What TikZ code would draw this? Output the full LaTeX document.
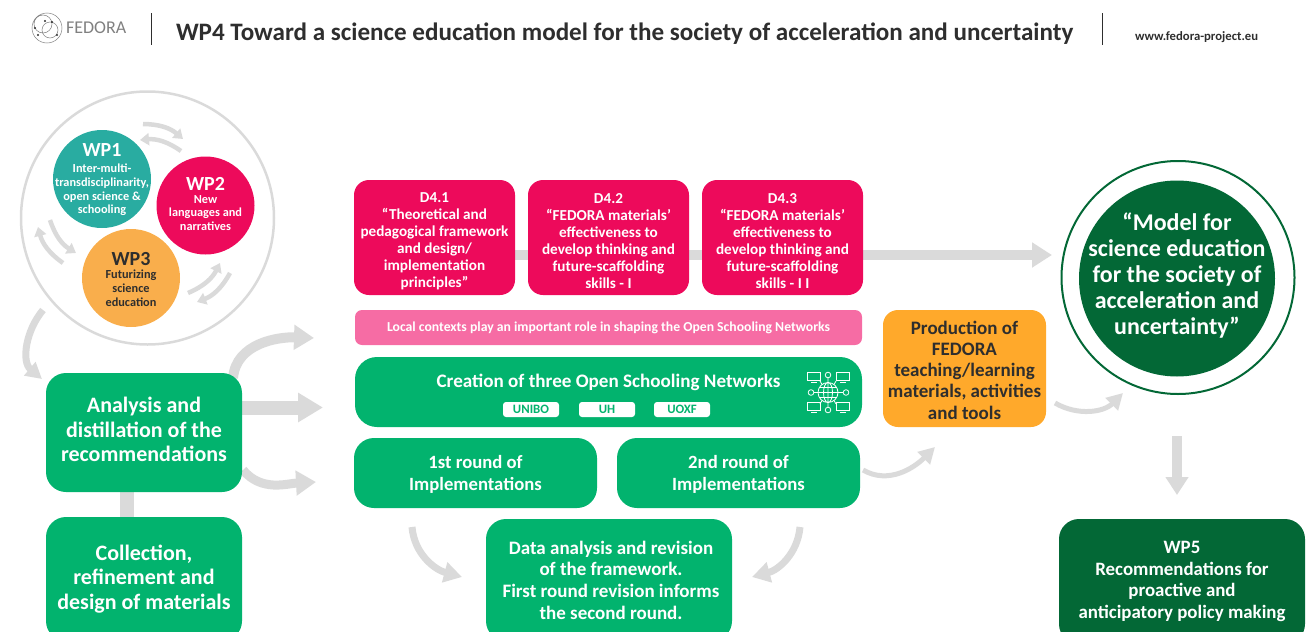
\documentclass[tikz,border=0pt]{standalone}
\usepackage{fontspec}
\setmainfont{Carlito}
\usepackage{xcolor}
\usetikzlibrary{arrows.meta,positioning,backgrounds}
\definecolor{fedteal}{HTML}{29ACA1}
\definecolor{fedpink}{HTML}{ED0A5B}
\definecolor{fedrose}{HTML}{F66CA4}
\definecolor{fedgreen}{HTML}{02B36E}
\definecolor{feddark}{HTML}{036836}
\definecolor{fedorange}{HTML}{FFA92B}
\definecolor{fedsoft}{HTML}{F9AE4C}
\definecolor{fedgray}{HTML}{DADADA}
\definecolor{fedink}{HTML}{2E2E2E}
\newcommand{\lbl}[2]{\fontsize{#1}{#2}\selectfont\bfseries}

\begin{document}
\begin{tikzpicture}[x=1pt,y=-1pt,
every node/.style = {align=center, outer sep=0pt, inner sep=0pt},
card/.style = {fill=fedgreen, rounded corners=20pt},
cardtext/.style = {text=white, font=\lbl{22}{24.4}},
roundtext/.style = {text=white, font=\lbl{18.7}{22}},
deliv/.style = {fill=fedpink, rounded corners=15pt, minimum width=161pt, minimum height=115pt},
delivtext/.style = {text=white, font=\lbl{15.2}{17}},
tagbox/.style = {fill=white, text=fedgreen, rounded corners=3pt, minimum width=56pt,
    minimum height=15pt, font=\lbl{12.8}{13}},
wpdisc/.style = {circle, minimum size=98pt},
wptext/.style = {font=\lbl{12.3}{13.7}},
flow/.style = {draw=fedgray, line width=10pt, -{Triangle[length=20pt,width=24pt]}},
swoosh/.style = {draw=fedgray, line width=5pt, -{Triangle[length=16pt,width=17pt]}},
curl/.style = {draw=fedgray, line width=4.5pt, -{Triangle[length=9pt,width=12pt]}}]
\useasboundingbox (0,0) rectangle (1310,632);

% header
\node (brand) [anchor=west, text=gray, font=\fontsize{18}{18}\selectfont] at (66,28) {FEDORA};
\node (title) [anchor=west, text=fedink, font=\lbl{25.1}{26}] at (176,33.5)
    {WP4 Toward a science education model for the society of acceleration and uncertainty};
\node (site) [anchor=west, text=fedink, font=\lbl{12.7}{13}] at (1135,37) {www.fedora-project.eu};
\draw[fedink, line width=1pt] (151,13) -- (151,45);
\draw[fedink, line width=1pt] (1102,13) -- (1102,45);
\draw[gray, line width=.5pt] (47,28) circle (15) (50,30) circle (8) (43,24) circle (9);
\foreach \px/\py in {45/21, 57/35, 38/35, 35/28, 52/22} {
  \fill[fedink] (\px,\py) circle (1.2);
}

% work packages
\node (ring) [circle, draw=fedgray, line width=2.5pt, minimum size=253pt] at (147.5,218) {};
\node (wp1) [wpdisc, fill=fedteal] at (102,179) {};
\node (wp2) [wpdisc, fill=fedpink] at (205.5,205.5) {};
\node (wp3) [wpdisc, fill=fedsoft] at (131,278) {};
\node (wp1t) [wptext, text=white] at (102,179.5) {\fontsize{20}{20}\selectfont WP1\\[3pt]Inter-multi-\\transdisciplinarity,\\open science \&\\schooling};
\node (wp2t) [wptext, text=white] at (205.5,204.25) {\fontsize{20}{20}\selectfont WP2\\[-1.5pt]New\\languages and\\narratives};
\node (wp3t) [wptext, text=fedink] at (131,279.5) {\fontsize{20}{20}\selectfont WP3\\[-1pt]Futurizing\\science\\education};
\coordinate (c1a) at (143,124); \coordinate (c1b) at (183,139);
\coordinate (c2a) at (181,151); \coordinate (c2b) at (140,140);
\coordinate (c3a) at (50,220);  \coordinate (c3b) at (76,253);
\coordinate (c4a) at (63,263);  \coordinate (c4b) at (38,227);
\coordinate (c5a) at (188,293); \coordinate (c5b) at (220,263);
\coordinate (c6a) at (230,273); \coordinate (c6b) at (197,302);
\draw[curl] (c1a) to[bend left=20] (c1b);
\draw[curl] (c2a) to[bend right=20] (c2b);
\draw[curl] (c3a) to[bend right=20] (c3b);
\draw[curl] (c4a) to[bend left=20] (c4b);
\draw[curl] (c5a) to[bend right=20] (c5b);
\draw[curl] (c6a) to[bend left=20] (c6b);

% left column
\node (analysis) [card, minimum width=196pt, minimum height=119pt] at (144,432.5) {};
\node (analysist) [cardtext] at ([yshift=3pt]analysis.center) {Analysis and\\distillation of the\\recommendations};
\node (collection) [card, minimum width=196pt, minimum height=124pt] at (144,579) {};
\node (collectiont) [cardtext] at (collection.center) {Collection,\\refinement and\\design of materials};

% deliverables
\node (d41) [deliv] at (434.5,237.5) {};
\node (d42) [deliv, right=13pt of d41] {};
\node (d43) [deliv, right=13pt of d42] {};
\node (d41t) [delivtext] at ([yshift=-3.5pt]d41.center) {D4.1\\“Theoretical and\\pedagogical framework\\and design/\\implementation\\principles”};
\node (d42t) [delivtext] at ([yshift=-3.5pt]d42.center) {D4.2\\“FEDORA materials’\\effectiveness to\\develop thinking and\\future-scaffolding\\skills - I};
\node (d43t) [delivtext] at ([yshift=-3.5pt]d43.center) {D4.3\\“FEDORA materials’\\effectiveness to\\develop thinking and\\future-scaffolding\\skills - I I};
\node (local) [fill=fedrose, text=white, rounded corners=7pt, minimum width=507pt, minimum height=35pt,
    font=\lbl{13.7}{14}] at (608.5,327.5) {Local contexts play an important role in shaping the Open Schooling Networks};
\node (creation) [card, rounded corners=22pt, minimum width=507pt, minimum height=70pt] at (608.5,392) {};
\node (creationt) [text=white, font=\lbl{19.1}{20}] at (608.5,382) {Creation of three Open Schooling Networks};
\node (unibo) [tagbox] at (531,409.5) {UNIBO};
\node (uh) [tagbox] at (607,409.5) {UH};
\node (uoxf) [tagbox] at (682,409.5) {UOXF};
\node (round1) [card, minimum width=243pt, minimum height=70pt] at (475.5,473) {};
\node (round2) [card, minimum width=243pt, minimum height=70pt] at (738.5,473) {};
\node (round1t) [roundtext] at ([yshift=-1pt]round1.center) {1st round of\\Implementations};
\node (round2t) [roundtext] at ([yshift=-1pt]round2.center) {2nd round of\\Implementations};
\node (datarev) [card, minimum width=246pt, minimum height=122pt] at (609,580) {};
\node (datarevt) [text=white, font=\lbl{19}{21.6}] at (611,580) {Data analysis and revision\\of the framework.\\First round revision informs\\the second round.};
\node (production) [fill=fedorange, rounded corners=15pt, minimum width=163pt, minimum height=117pt] at (964.5,368.5) {};
\node (productiont) [text=fedink, font=\lbl{19}{21.2}] at ([yshift=-1.5pt]production.center)
    {Production of\\FEDORA\\teaching/learning\\materials, activities\\and tools};

% network icon
\draw[white, line width=.8pt] (828,392.5) circle (10) (818,392.5) -- (838,392.5)
    (828,382.5) -- (828,402.5) (828,392.5) ellipse (4.5 and 10)
    (819.5,387.5) -- (836.5,387.5) (819.5,397.5) -- (836.5,397.5);
\foreach \ix/\iy in {828/375, 828/410, 811/392.5, 846/392.5} {
  \draw[white, line width=.8pt] (\ix,\iy) circle (2.8);
}
\foreach \ix/\iy in {814/377, 843/377, 814/407, 843/407} {
  \draw[white, line width=.8pt] (\ix-6.5,\iy-4.5) rectangle (\ix+6.5,\iy+3.5)
      (\ix-3,\iy+5.5) -- (\ix+3,\iy+5.5);
}
\draw[white, line width=.8pt] (828,378) -- (828,382.5) (828,402.5) -- (828,407)
    (814,392.5) -- (818,392.5) (838,392.5) -- (843,392.5)
    (820,381) -- (822,384.5) (836,381) -- (834,384.5) (820,404) -- (822,400.5) (836,404) -- (834,400.5);

% outcome
\node (model) [circle, fill=feddark, minimum size=196pt] at (1177,278.5) {};
\node (modelt) [text=white, font=\lbl{24}{26.2}] at ([yshift=3pt]model.center)
    {“Model for\\science education\\for the society of\\acceleration and\\uncertainty”};
\node (halo) [circle, draw=feddark, line width=2pt, minimum size=233pt] at (1178,277.5) {};
\node (wp5) [fill=feddark, rounded corners=20pt, minimum width=246pt, minimum height=125pt] at (1182,581.5) {};
\node (wp5t) [text=white, font=\lbl{18.9}{21.6}] at (wp5.center)
    {WP5\\Recommendations for\\proactive and\\anticipatory policy making};

% connectors
\coordinate (a1) at (43,310);   \coordinate (a2) at (42,379);
\coordinate (b1) at (233,378);  \coordinate (b2) at (314,338);
\coordinate (e2) at (316,482);  \coordinate (e1) at (243,470);
\coordinate (f1) at (863,470);  \coordinate (f2) at (935,447);
\coordinate (g1) at (1055,403); \coordinate (g2) at (1123,393);
\coordinate (h1) at (412,527);  \coordinate (h2) at (462,577);
\coordinate (i1) at (800,527);  \coordinate (i2) at (752,577);
\coordinate (m1) at (1052,255);
\coordinate (s1) at (323,407.5);
\coordinate (t1) at (1177,436); \coordinate (t2) at (1177,495);
\begin{scope}[on background layer]
\draw[fedgray, line width=14pt] ([xshift=-17pt]analysis.south) -- ([xshift=-17pt]collection.north);
\draw[swoosh, line width=7pt] (a1) to[out=230,in=140] (a2);
\draw[flow] (b1) to[out=85,in=178] (b2);
\draw[flow, line width=14pt, -{Triangle[length=25pt,width=28pt]}] (analysis.east |- s1) -- (s1);
\draw[swoosh, line width=9pt, -{Triangle[length=20pt,width=24pt]}] (e1) to[out=-50,in=183] (e2);
\draw[swoosh] (f1) to[out=-30,in=225] (f2);
\draw[swoosh] (g1) to[out=-30,in=225] (g2);
\draw[swoosh, line width=7pt, -{Triangle[length=18pt,width=20pt]}] (h1) to[out=-85,in=165] (h2);
\draw[swoosh, line width=7pt, -{Triangle[length=18pt,width=20pt]}] (i1) to[out=-95,in=15] (i2);
\draw[fedgray, line width=10pt] (d41.east |- m1) -- (d42.west |- m1);
\draw[fedgray, line width=10pt] (d42.east |- m1) -- (d43.west |- m1);
\draw[flow] (d43.east |- m1) -- (m1);
\draw[flow, -{Triangle[length=18pt,width=22pt]}] (t1) -- (t2);
\end{scope}
\end{tikzpicture}
\end{document}
